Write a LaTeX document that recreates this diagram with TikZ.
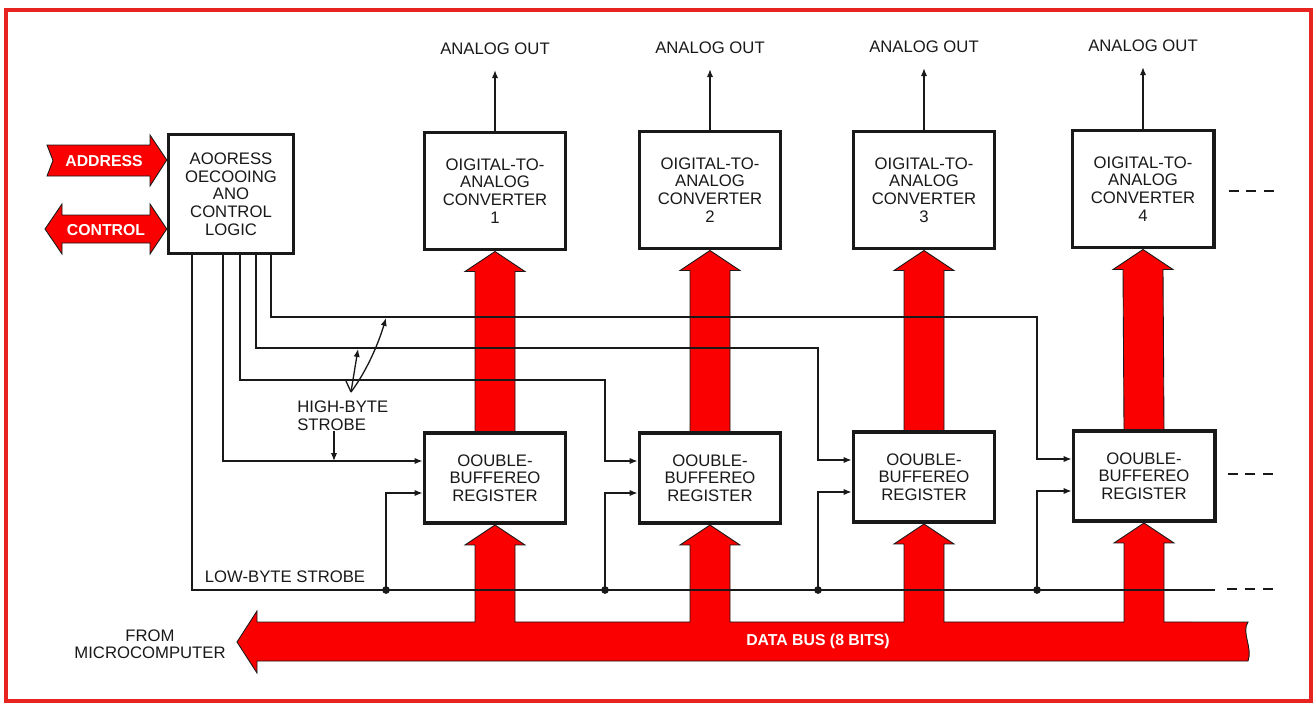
\documentclass[tikz,border=0pt]{standalone}
\usepackage{fontspec}
\setmainfont{Liberation Sans}
\usetikzlibrary{arrows.meta,calc}
\definecolor{busred}{RGB}{250,0,0}
\definecolor{framered}{RGB}{232,36,32}
\definecolor{ink}{RGB}{25,25,25}
\pgfdeclarelayer{bg}
\pgfsetlayers{bg,main}
\begin{document}
\begin{tikzpicture}[x=0.02cm,y=-0.02cm,
  txt/.style={text=ink,font=\fontsize{9.5}{10.1}\selectfont,inner sep=0pt,align=center},
  box/.style={txt,draw=ink,line width=0.07cm,fill=white},
  dacbox/.style={box,minimum width=2.83cm,minimum height=2.35cm},
  regbox/.style={box,minimum width=2.83cm,minimum height=1.81cm},
  sig/.style={draw=ink,line width=0.75pt},
  sigar/.style={sig,-{Latex[length=4.5pt,width=3.6pt]}},
  redshape/.style={fill=busred,draw=ink,line width=0.5pt,line join=miter},
  redlabel/.style={text=white,font=\bfseries\fontsize{9}{10}\selectfont,inner sep=0pt},
  dashline/.style={draw=ink,line width=1.1pt,dash pattern=on 5.7pt off 4.5pt}
]
\useasboundingbox (0,0) rectangle (1315,706);
\draw[framered,line width=0.08cm] (6,10) rectangle (1311,701);

% boxes
\node[box,minimum width=2.5cm,minimum height=2.38cm] (logic) at (231,194) {AOORESS\\OECOOING\\ANO\\CONTROL\\LOGIC};
\node[dacbox] (dac1) at (495,191) {OIGITAL-TO-\\ANALOG\\CONVERTER\\1};
\node[dacbox] (dac2) at (710,190) {OIGITAL-TO-\\ANALOG\\CONVERTER\\2};
\node[dacbox] (dac3) at (924,190) {OIGITAL-TO-\\ANALOG\\CONVERTER\\3};
\node[dacbox] (dac4) at (1143,189) {OIGITAL-TO-\\ANALOG\\CONVERTER\\4};
\node[regbox] (reg1) at (495,478) {OOUBLE-\\BUFFEREO\\REGISTER};
\node[regbox] (reg2) at (710,478) {OOUBLE-\\BUFFEREO\\REGISTER};
\node[regbox] (reg3) at (924,477) {OOUBLE-\\BUFFEREO\\REGISTER};
\node[regbox] (reg4) at (1144,476) {OOUBLE-\\BUFFEREO\\REGISTER};

% analog out
\foreach \k/\y in {1/49,2/48,3/47,4/46}{
  \node[txt] (ao\k) at (dac\k.north |- 0,\y) {ANALOG OUT};
  \draw[sigar,shorten >=8.5pt] (dac\k.north) -- (ao\k.south);
}

% red shapes
\begin{pgfonlayer}{bg}
\foreach \k in {1,...,4}{
  \filldraw[redshape] ($(reg\k.north)+(-20,0)$) -- ($(dac\k.south)+(-20,20)$) -- ($(dac\k.south)+(-30,20)$)
    -- (dac\k.south) -- ($(dac\k.south)+(30,20)$) -- ($(dac\k.south)+(20,20)$) -- ($(reg\k.north)+(20,0)$);
}
\filldraw[redshape] (237,642) -- (257,611) -- (257,622)
  -- ($(reg1.south)+(-20,97)$) -- ($(reg1.south)+(-20,20)$) -- ($(reg1.south)+(-30,20)$) -- (reg1.south)
  -- ($(reg1.south)+(30,20)$) -- ($(reg1.south)+(20,20)$) -- ($(reg1.south)+(20,97)$)
  -- ($(reg2.south)+(-20,97)$) -- ($(reg2.south)+(-20,20)$) -- ($(reg2.south)+(-30,20)$) -- (reg2.south)
  -- ($(reg2.south)+(30,20)$) -- ($(reg2.south)+(20,20)$) -- ($(reg2.south)+(20,97)$)
  -- ($(reg3.south)+(-20,98)$) -- ($(reg3.south)+(-20,20)$) -- ($(reg3.south)+(-30,20)$) -- (reg3.south)
  -- ($(reg3.south)+(30,20)$) -- ($(reg3.south)+(20,20)$) -- ($(reg3.south)+(20,98)$)
  -- ($(reg4.south)+(-20,99)$) -- ($(reg4.south)+(-20,20)$) -- ($(reg4.south)+(-30,20)$) -- (reg4.south)
  -- ($(reg4.south)+(30,20)$) -- ($(reg4.south)+(20,20)$) -- ($(reg4.south)+(20,99)$)
  -- (1248,622) .. controls (1241,632) and (1253,648) .. (1248,661)
  -- (257,661) -- (257,673) -- cycle;
\filldraw[redshape] (47,145) -- (150,145) -- (150,135) -- (logic.west |- 0,160) -- (150,186) -- (150,176)
  -- (47,176) -- (53,160.5) -- cycle;
\filldraw[redshape] (45,229) -- (62,204) -- (62,215) -- (150,215) -- (150,204) -- (logic.west |- 0,229)
  -- (150,254) -- (150,243) -- (62,243) -- (62,254) -- cycle;
\end{pgfonlayer}
\node[redlabel] (addr) at (104,161) {ADDRESS};
\node[redlabel] (ctrl) at (106,230) {CONTROL};
\node[redlabel] (dbus) at (818,641) {DATA BUS (8 BITS)};
\node[txt,font=\fontsize{9.5}{9.8}\selectfont] (from) at (150,644) {FROM\\MICROCOMPUTER};

% register inputs
\foreach \k in {1,...,4}{
  \coordinate (rh\k) at ($(reg\k.west)+(0,-17)$);
  \coordinate (rl\k) at ($(reg\k.west)+(0,15)$);
}
% control lines
\draw[sigar] (logic.south -| 223,0) |- (rh1);
\draw[sigar] (logic.south -| 240,0) |- (605,380) |- (rh2);
\draw[sigar] (logic.south -| 256,0) |- (818,348) |- (rh3);
\draw[sigar] (logic.south -| 271,0) |- (1037,317) |- (rh4);
\coordinate (lbend) at (1215,590);
\draw[sig] (logic.south -| 192,0) |- (lbend);
\foreach \x/\k in {386/1,605/2,818/3,1037/4}{
  \coordinate (j\k) at (\x,590);
  \fill[ink] (j\k) circle[radius=2.2pt];
  \draw[sigar] (j\k) |- (rl\k);
}
\node[txt] (lbs) at (285,577) {LOW-BYTE STROBE};

% high-byte strobe label and pointers
\node[txt,align=left,anchor=west] (hbs) at (297,416) {HIGH-BYTE\\STROBE};
\coordinate (hbt) at (334,461);
\draw[sigar] (hbs.south -| 334,0) -- (hbt);
\coordinate (hbo) at (351,392);
\coordinate (hb3) at (358,349);
\coordinate (hb4) at (386,318);
\draw[sig] (hbo) -- (346,381);
\draw[sigar] (hbo) -- (hb3);
\draw[sigar] (hbo) .. controls (366,372) and (378,345) .. (hb4);

% continuation dashes
\draw[dashline] ($(dac4.east)+(13,2)$) -- ++(46,0);
\draw[dashline] ($(reg4.east)+(11,-2)$) -- ++(46,0);
\draw[dashline] (1227,589) -- ++(46,0);
\end{tikzpicture}
\end{document}
